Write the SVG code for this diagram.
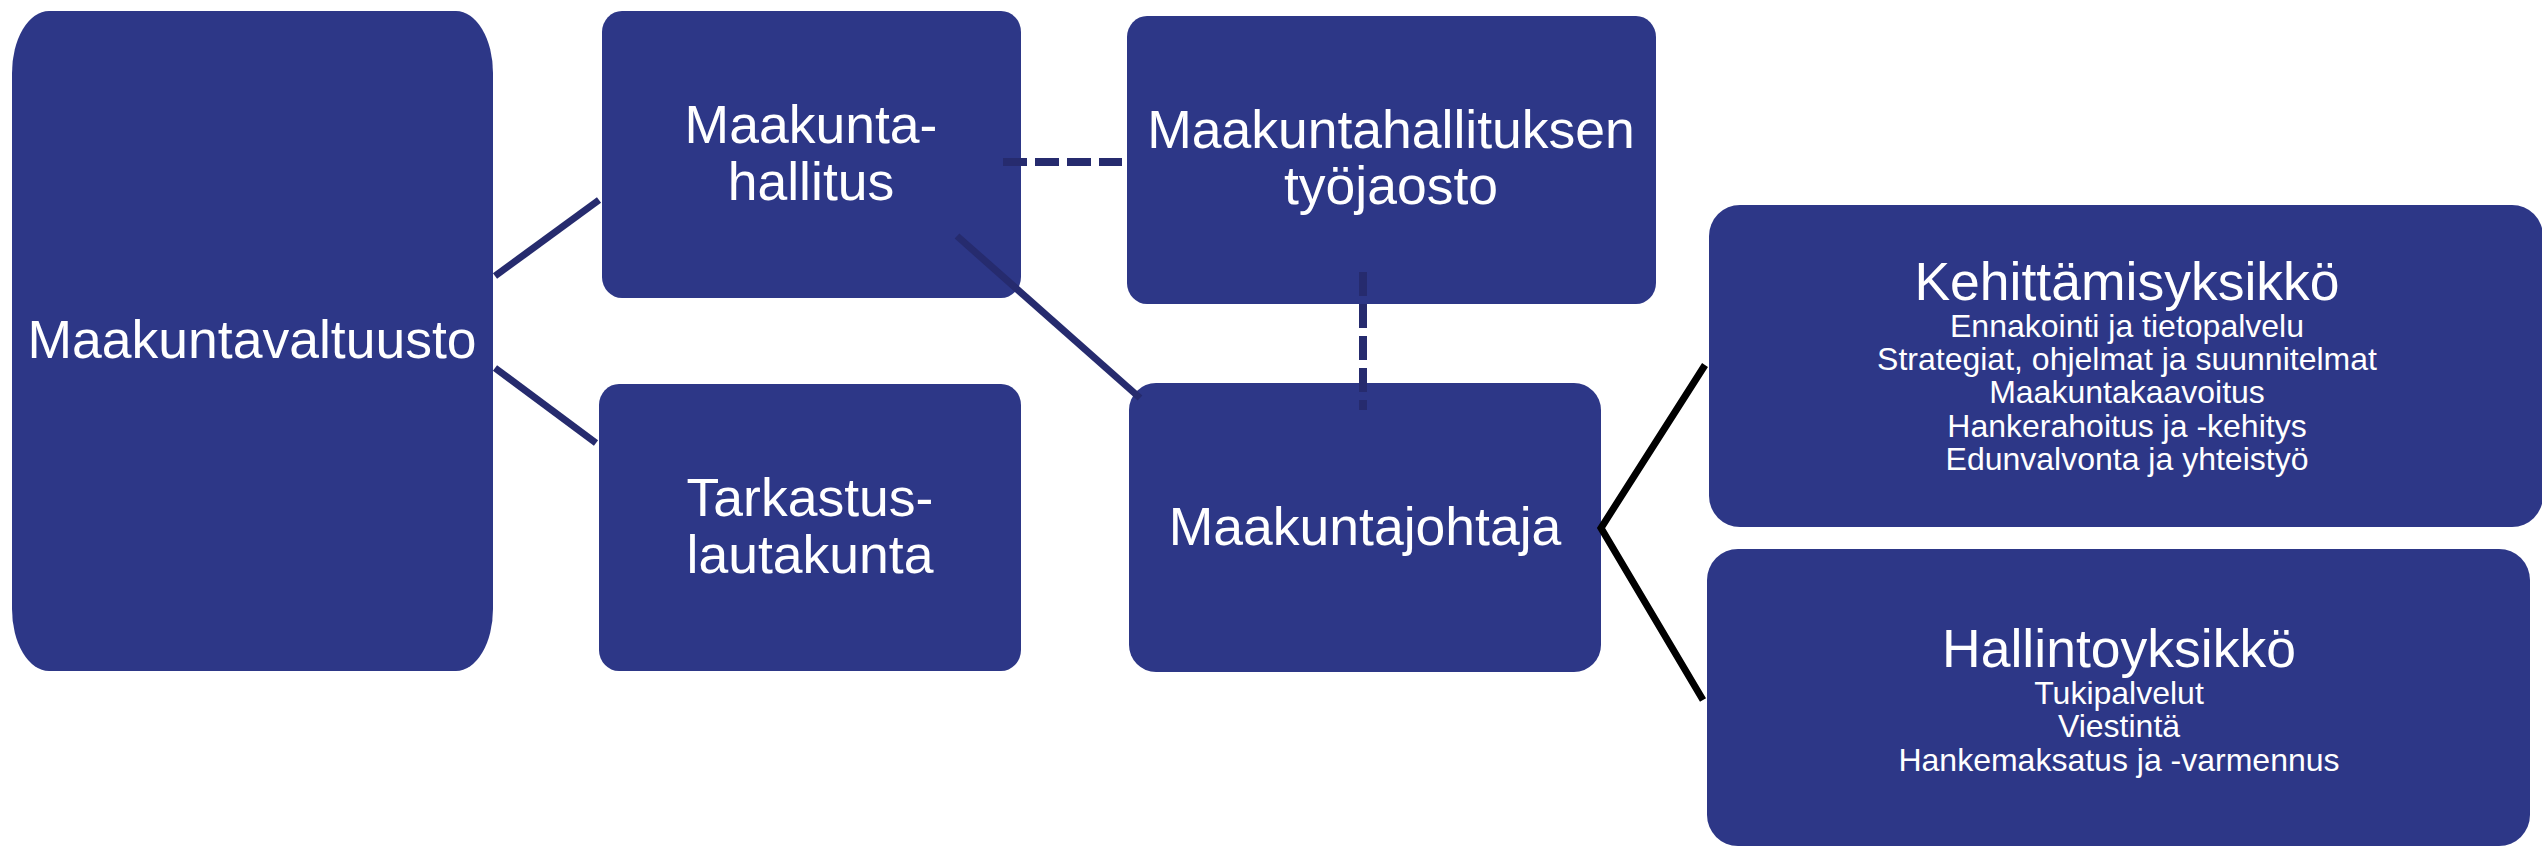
<svg xmlns="http://www.w3.org/2000/svg" width="2542" height="848" viewBox="0 0 2542 848">
<style>
.box{fill:#2d3787;}
.t{font-family:"Liberation Sans",Arial,sans-serif;fill:#ffffff;text-anchor:middle;}
.big{font-size:53.5px;}
.small{font-size:32px;}
.navy{stroke:#262b6e;stroke-width:7;fill:none;}
.dash{stroke:#262b6e;stroke-width:8;fill:none;stroke-dasharray:24 8;}
.blk{stroke:#000000;stroke-width:7;fill:none;stroke-linejoin:miter;}
</style>
<rect width="2542" height="848" fill="#ffffff"/>
<g id="maakuntavaltuusto">
<rect class="box" x="12" y="11" width="481" height="660" rx="37" ry="62"/>
<text class="t big" x="252" y="358">Maakuntavaltuusto</text>
</g>
<g id="maakuntahallitus">
<rect class="box" x="602" y="11" width="419" height="287" rx="20" ry="21"/>
<text class="t big" x="811" y="143">Maakunta-</text>
<text class="t big" x="811" y="200">hallitus</text>
</g>
<g id="tarkastuslautakunta">
<rect class="box" x="599" y="384" width="422" height="287" rx="20" ry="21"/>
<text class="t big" x="810" y="516">Tarkastus-</text>
<text class="t big" x="810" y="573">lautakunta</text>
</g>
<g id="tyojaosto">
<rect class="box" x="1127" y="16" width="529" height="288" rx="20" ry="21"/>
<text class="t big" x="1391" y="148">Maakuntahallituksen</text>
<text class="t big" x="1391" y="204">työjaosto</text>
</g>
<g id="maakuntajohtaja">
<rect class="box" x="1129" y="383" width="472" height="289" rx="27" ry="27"/>
<text class="t big" x="1365" y="545">Maakuntajohtaja</text>
</g>
<g id="kehittamisyksikko">
<rect class="box" x="1709" y="205" width="834" height="322" rx="31" ry="31"/>
<text class="t big" x="2127" y="300">Kehittämisyksikkö</text>
<text class="t small" x="2127" y="337">Ennakointi ja tietopalvelu</text>
<text class="t small" x="2127" y="370">Strategiat, ohjelmat ja suunnitelmat</text>
<text class="t small" x="2127" y="403">Maakuntakaavoitus</text>
<text class="t small" x="2127" y="437">Hankerahoitus ja -kehitys</text>
<text class="t small" x="2127" y="470">Edunvalvonta ja yhteistyö</text>
</g>
<g id="hallintoyksikko">
<rect class="box" x="1707" y="549" width="823" height="297" rx="31" ry="31"/>
<text class="t big" x="2119" y="667">Hallintoyksikkö</text>
<text class="t small" x="2119" y="704">Tukipalvelut</text>
<text class="t small" x="2119" y="737">Viestintä</text>
<text class="t small" x="2119" y="771">Hankemaksatus ja -varmennus</text>
</g>
<g id="connectors">
<line class="navy" x1="495" y1="276" x2="599" y2="200"/>
<line class="navy" x1="495" y1="368" x2="596" y2="443"/>
<line class="navy" x1="957" y1="236" x2="1140" y2="398"/>
<line class="dash" x1="1003" y1="162" x2="1122" y2="162"/>
<line class="dash" x1="1363" y1="272" x2="1363" y2="410"/>
<polyline class="blk" points="1705,365 1601,528 1703,700"/>
</g>
</svg>
